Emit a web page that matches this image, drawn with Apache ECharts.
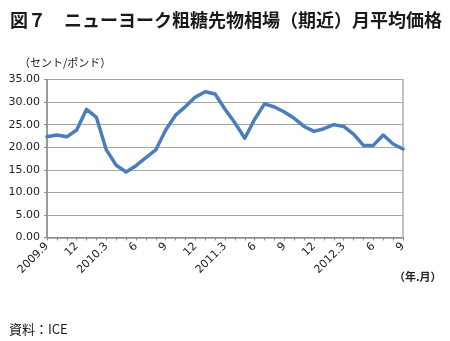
<!DOCTYPE html>
<html>
<head>
<meta charset="utf-8">
<script src="https://cdn.jsdelivr.net/npm/echarts@6/dist/echarts.min.js"></script>
<style>
  html, body { margin: 0; padding: 0; background: #fff; }
  #chart { width: 450px; height: 341px; }
</style>
</head>
<body>
<div id="chart"></div>
<script>
// Monthly categories, 2009.9 – 2012.9 (label shown every third month)
const months = [
  '2009.9', '10', '11', '12',
  '2010.1', '2', '2010.3', '4', '5', '6', '7', '8', '9', '10', '11', '12',
  '2011.1', '2', '2011.3', '4', '5', '6', '7', '8', '9', '10', '11', '12',
  '2012.1', '2', '2012.3', '4', '5', '6', '7', '8', '9'
];

// Monthly average price, cents per pound
const prices = [
  22.3, 22.7, 22.3, 23.8,
  28.4, 26.6, 19.4, 16.0, 14.5, 15.9, 17.7, 19.4, 23.8, 27.1, 29.0, 31.1,
  32.3, 31.8, 28.4, 25.4, 22.0, 26.2, 29.6, 28.9, 27.8, 26.4, 24.6, 23.5,
  24.1, 25.0, 24.6, 22.9, 20.4, 20.4, 22.7, 20.7, 19.6
];

// Value axis ticks
const yTicks = [0, 5, 10, 15, 20, 25, 30, 35];

const chart = echarts.init(document.getElementById('chart'), null, { renderer: 'canvas' });

const font = 'DejaVu Sans, sans-serif';
const cjk = '"Noto Sans CJK JP", sans-serif';

chart.setOption({
  animation: false,
  backgroundColor: '#ffffff',
  title: [
    {
      text: '図７　ニューヨーク粗糖先物相場（期近）月平均価格',
      left: 5, top: 6,
      textStyle: { fontFamily: cjk, fontSize: 18, fontWeight: 'bold', color: '#1a1a1a' }
    },
    {
      text: '（セント/ポンド）',
      left: 14, top: 52,
      textStyle: { fontFamily: cjk, fontSize: 11, fontWeight: 'normal', color: '#222' }
    },
    {
      text: '（年.月）',
      left: 389, top: 266,
      textStyle: { fontFamily: cjk, fontSize: 11, fontWeight: 'bold', color: '#222' }
    },
    {
      text: '資料：ICE',
      left: 4, top: 318,
      textStyle: { fontFamily: cjk, fontSize: 13, fontWeight: 'normal', color: '#1a1a1a' }
    }
  ],
  grid: {
    left: 47, right: 47, top: 79.5, bottom: 103.5,
    show: true, borderColor: '#9a9a9a', borderWidth: 1.2, backgroundColor: 'transparent'
  },
  xAxis: {
    type: 'category',
    data: months,
    boundaryGap: false,
    axisLine: { show: true, lineStyle: { color: '#8c8c8c', width: 1.5 } },
    axisTick: { show: true, interval: 0, length: 3, inside: false, lineStyle: { color: '#8c8c8c', width: 1 } },
    axisLabel: {
      interval: 2,
      rotate: 45,
      margin: 7,
      fontFamily: font,
      fontSize: 11,
      color: '#222'
    },
    splitLine: { show: false }
  },
  yAxis: {
    type: 'value',
    min: yTicks[0],
    max: yTicks[yTicks.length - 1],
    interval: 5,
    axisLine: { show: true, lineStyle: { color: '#8c8c8c', width: 1.5 } },
    axisTick: { show: true, length: 3, lineStyle: { color: '#8c8c8c' } },
    axisLabel: {
      margin: 7,
      fontFamily: font,
      fontSize: 11,
      color: '#222',
      formatter: v => v.toFixed(2)
    },
    splitLine: { show: true, lineStyle: { color: '#a6a6a6', width: 1.2 } }
  },
  series: [
    {
      type: 'line',
      data: prices,
      showSymbol: false,
      symbol: 'none',
      smooth: false,
      lineStyle: { color: '#4a7ebb', width: 3.5, join: 'round', cap: 'round' }
    }
  ]
});
</script>
</body>
</html>
